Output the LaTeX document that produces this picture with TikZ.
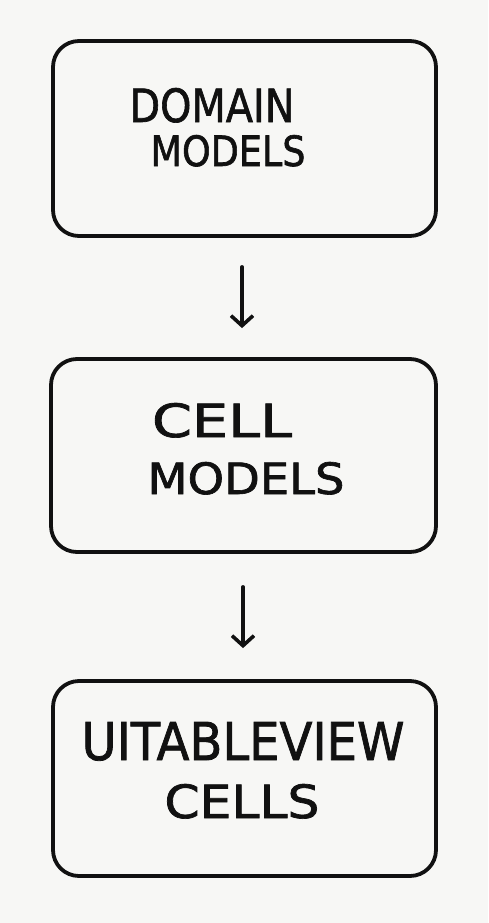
\documentclass[tikz,border=0pt]{standalone}
\usepackage{fontspec}
\usepackage{graphicx}
\setmainfont{DejaVu Sans}
\newfontfamily\handfont[FakeBold=1.5]{DejaVu Sans}
\usetikzlibrary{arrows.meta}
\definecolor{bg}{HTML}{F7F7F5}
\definecolor{ink}{HTML}{111111}
\tikzset{
  box/.style={draw=ink, line width=3.8pt, rounded corners=26pt, inner sep=0pt},
  lbl/.style={text=ink, inner sep=0pt, font=\handfont\fontsize{40}{48}\selectfont},
  conn/.style={draw=ink, line width=3.6pt, line cap=round, -{Straight Barb[length=10pt,width=22pt,line width=3.6pt]}}
}
\newcommand{\hw}[3]{\resizebox{#1}{#2}{#3}}
\begin{document}
\begin{tikzpicture}[x=1pt,y=-1pt]
\fill[bg] (0,0) rectangle (488,923);
\useasboundingbox (0,0) rectangle (488,923);
\node[box, minimum width=383pt, minimum height=195pt] (b1) at (244.5,138.5) {};
\node[box, minimum width=385pt, minimum height=193pt] (b2) at (243.5,455.5) {};
\node[box, minimum width=383pt, minimum height=195pt] (b3) at (244.5,778.5) {};
\node[lbl, anchor=base] (t1a) at (212,122) {\hw{165pt}{34pt}{DOMAIN}};
\node[lbl, anchor=base] (t1b) at (228,166) {\hw{155pt}{31pt}{MODELS}};
\node[lbl, anchor=base] (t2a) at (222,437) {\hw{140pt}{34pt}{CELL}};
\node[lbl, anchor=base] (t2b) at (246,494) {\hw{197pt}{32pt}{MODELS}};
\node[lbl, anchor=base] (t3a) at (243,760) {\hw{323pt}{38pt}{UITABLEVIEW}};
\node[lbl, anchor=base] (t3b) at (242,818) {\hw{155pt}{34pt}{CELLS}};
\draw[conn, shorten <=29pt, shorten >=29pt] (b1.south -| 242,0) -- (b2.north -| 242,0);
\draw[conn, shorten <=33pt, shorten >=31pt] (b2.south -| 243,0) -- (b3.north -| 243,0);
\end{tikzpicture}
\end{document}
